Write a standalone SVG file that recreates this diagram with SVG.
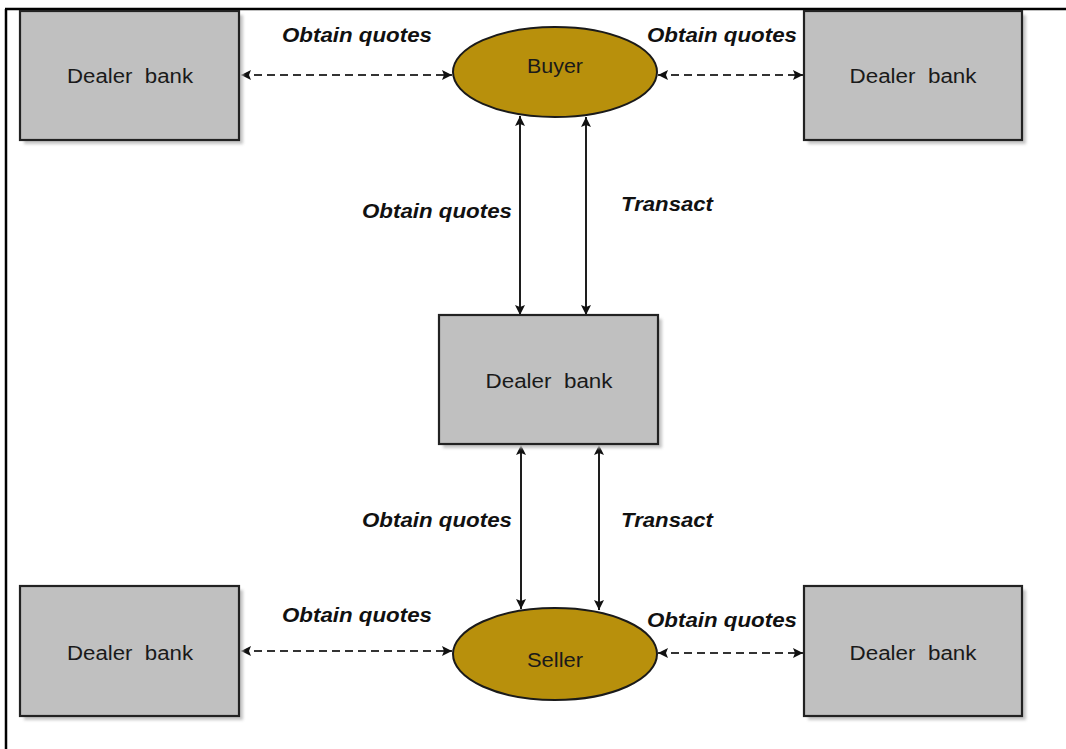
<svg xmlns="http://www.w3.org/2000/svg" width="1066" height="749" viewBox="0 0 1066 749">
  <style>
    .box { fill: #c0c0c0; stroke: #222; stroke-width: 2.2; }
    .shadow { fill: #c4c4c4; }
    .party { fill: #b8900c; stroke: #1a1a1a; stroke-width: 2; }
    .node-text { font-family: "Liberation Sans", Arial, sans-serif; font-size: 20px; fill: #1a1a1a; text-anchor: middle; white-space: pre; }
    .label { font-family: "Liberation Sans", Arial, sans-serif; font-size: 20px; font-weight: bold; font-style: italic; fill: #111; text-anchor: middle; }
    .link { stroke: #1e1e1e; stroke-width: 2; fill: none; marker-start: url(#head); marker-end: url(#head); }
    .dashed { stroke-dasharray: 8 5; stroke: #333; }
    .frame { stroke: #000; stroke-width: 2.5; fill: none; }
  </style>
  <defs>
    <marker id="head" viewBox="0 0 10 10" refX="10" refY="5" markerWidth="12" markerHeight="10" markerUnits="userSpaceOnUse" orient="auto-start-reverse">
      <path d="M0,0 L10,5 L0,10 L2,5 z" fill="#111"/>
    </marker>
    <filter id="soft" x="-10%" y="-10%" width="120%" height="120%">
      <feGaussianBlur stdDeviation="1.5"/>
    </filter>
  </defs>

  <rect x="0" y="0" width="1066" height="749" fill="#fff"/>

  <!-- page frame -->
  <g id="frame">
    <path class="frame" d="M5,9 H1066"/>
    <path class="frame" d="M6,9 V749"/>
  </g>

  <!-- connectors -->
  <g id="connectors">
    <line class="link dashed" x1="241" y1="75" x2="452" y2="75"/>
    <line class="link dashed" x1="658" y1="75" x2="803" y2="75"/>
    <line class="link" x1="520" y1="116" x2="520" y2="315"/>
    <line class="link" x1="586" y1="117" x2="586" y2="315"/>
    <line class="link" x1="521" y1="445" x2="521" y2="609"/>
    <line class="link" x1="599" y1="445" x2="599" y2="610"/>
    <line class="link dashed" x1="241" y1="651" x2="452" y2="651"/>
    <line class="link dashed" x1="658" y1="653" x2="803" y2="653"/>
  </g>

  <!-- connector labels -->
  <g id="labels">
    <text class="label" x="357" y="42" textLength="150" lengthAdjust="spacingAndGlyphs">Obtain quotes</text>
    <text class="label" x="722" y="42" textLength="150" lengthAdjust="spacingAndGlyphs">Obtain quotes</text>
    <text class="label" x="437" y="218" textLength="150" lengthAdjust="spacingAndGlyphs">Obtain quotes</text>
    <text class="label" x="667" y="211" textLength="92" lengthAdjust="spacingAndGlyphs">Transact</text>
    <text class="label" x="437" y="527" textLength="150" lengthAdjust="spacingAndGlyphs">Obtain quotes</text>
    <text class="label" x="667" y="527" textLength="92" lengthAdjust="spacingAndGlyphs">Transact</text>
    <text class="label" x="357" y="622" textLength="150" lengthAdjust="spacingAndGlyphs">Obtain quotes</text>
    <text class="label" x="722" y="627" textLength="150" lengthAdjust="spacingAndGlyphs">Obtain quotes</text>
  </g>

  <!-- dealer banks -->
  <g id="dealer-top-left">
    <rect class="shadow" x="24" y="15" width="219" height="129" filter="url(#soft)"/>
    <rect class="box" x="20" y="11" width="219" height="129"/>
    <text class="node-text" x="130" y="83" textLength="126" lengthAdjust="spacingAndGlyphs" xml:space="preserve">Dealer  bank</text>
  </g>
  <g id="dealer-top-right">
    <rect class="shadow" x="808" y="15" width="218" height="129" filter="url(#soft)"/>
    <rect class="box" x="804" y="11" width="218" height="129"/>
    <text class="node-text" x="913" y="83" textLength="127" lengthAdjust="spacingAndGlyphs" xml:space="preserve">Dealer  bank</text>
  </g>
  <g id="dealer-center">
    <rect class="shadow" x="443" y="319" width="219" height="129" filter="url(#soft)"/>
    <rect class="box" x="439" y="315" width="219" height="129"/>
    <text class="node-text" x="549" y="388" textLength="127" lengthAdjust="spacingAndGlyphs" xml:space="preserve">Dealer  bank</text>
  </g>
  <g id="dealer-bottom-left">
    <rect class="shadow" x="24" y="590" width="219" height="130" filter="url(#soft)"/>
    <rect class="box" x="20" y="586" width="219" height="130"/>
    <text class="node-text" x="130" y="660" textLength="126" lengthAdjust="spacingAndGlyphs" xml:space="preserve">Dealer  bank</text>
  </g>
  <g id="dealer-bottom-right">
    <rect class="shadow" x="808" y="590" width="218" height="130" filter="url(#soft)"/>
    <rect class="box" x="804" y="586" width="218" height="130"/>
    <text class="node-text" x="913" y="660" textLength="127" lengthAdjust="spacingAndGlyphs" xml:space="preserve">Dealer  bank</text>
  </g>

  <!-- counterparties -->
  <g id="buyer">
    <ellipse class="party" cx="555" cy="72" rx="102" ry="45"/>
    <text class="node-text" x="555" y="73" textLength="56" lengthAdjust="spacingAndGlyphs">Buyer</text>
  </g>
  <g id="seller">
    <ellipse class="party" cx="555" cy="654" rx="102" ry="46"/>
    <text class="node-text" x="555" y="667" textLength="56" lengthAdjust="spacingAndGlyphs">Seller</text>
  </g>
</svg>
